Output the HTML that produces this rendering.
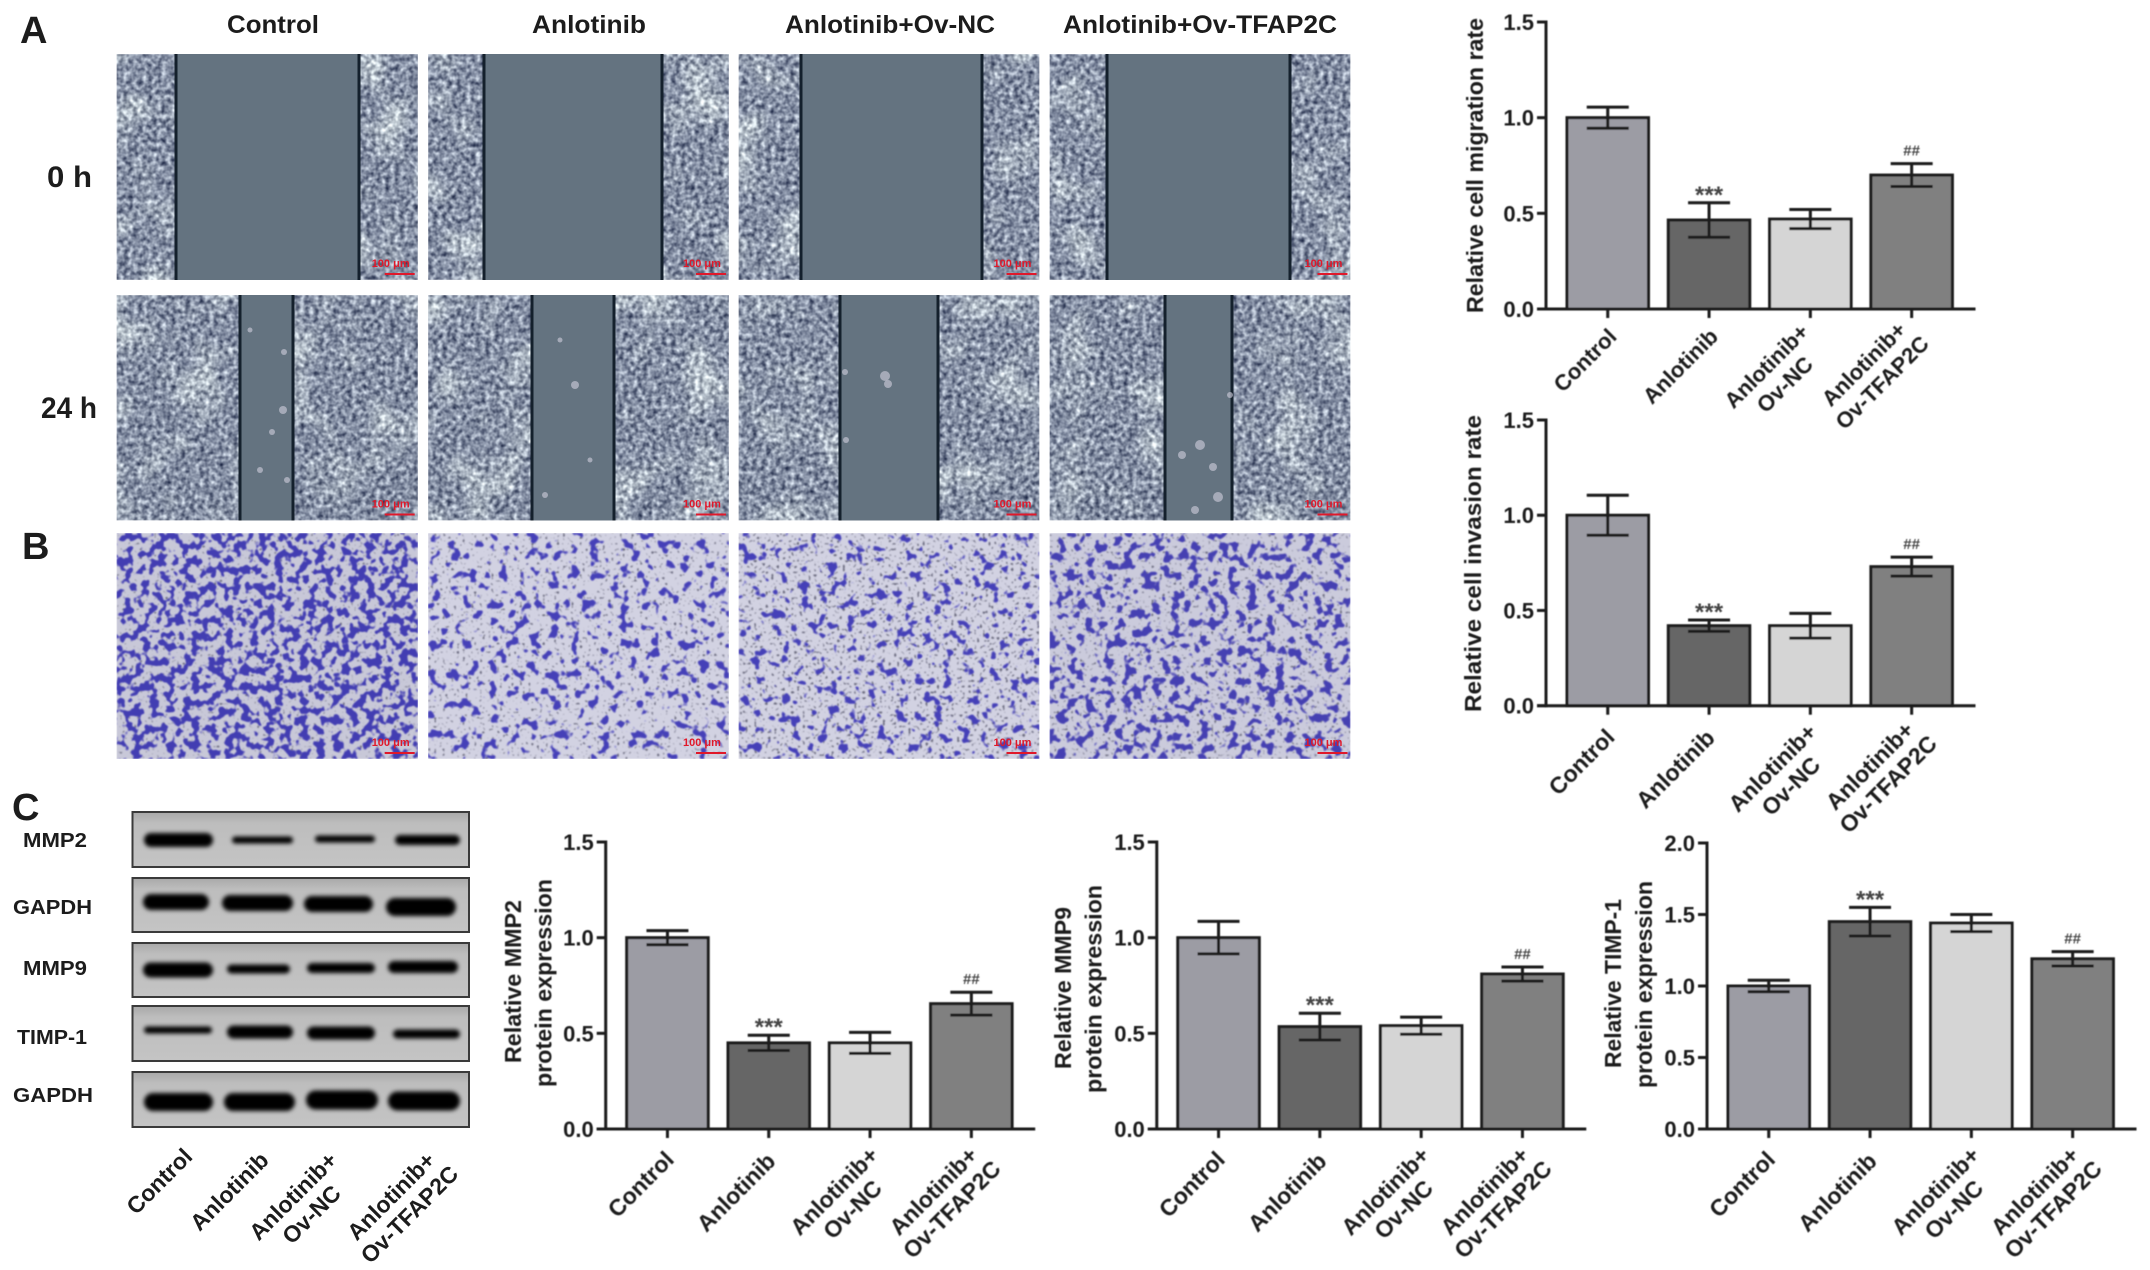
<!DOCTYPE html>
<html lang="en">
<head>
<meta charset="utf-8">
<title>Anlotinib and TFAP2C cell migration, invasion and protein expression</title>
<style>
html,body{margin:0;padding:0;background:#fff;width:2150px;height:1270px;overflow:hidden}
svg{display:block;font-family:"Liberation Sans",sans-serif}
text{font-weight:bold;fill:#1c1c1c}
</style>
</head>
<body>
<svg id="figure" xmlns="http://www.w3.org/2000/svg" width="2150" height="1270" viewBox="0 0 2150 1270">
<defs>
<filter id="monolayer" x="0" y="0" width="100%" height="100%" color-interpolation-filters="sRGB">
<feTurbulence type="fractalNoise" baseFrequency=".21" numOctaves="2" seed="4" result="fine"/>
<feTurbulence type="fractalNoise" baseFrequency=".022" numOctaves="2" seed="11" result="coarse"/>
<feColorMatrix in="fine" values="0 0 0 1.1 -.03  0 0 0 1.1 .01  0 0 0 1.0 .14  0 0 0 0 1" result="fineC"/>
<feColorMatrix in="coarse" values="0 0 0 .7 -.35  0 0 0 .7 -.35  0 0 0 .55 -.275  0 0 0 0 1" result="coarseC"/>
<feComposite in="fineC" in2="coarseC" operator="arithmetic" k1="0" k2="1" k3="1" k4="0"/>
<feGaussianBlur stdDeviation=".5"/>
</filter>
<filter id="stain-a" x="0" y="0" width="100%" height="100%" color-interpolation-filters="sRGB">
<feFlood flood-color="#c8c8d8" result="bg"/>
<feTurbulence type="fractalNoise" baseFrequency=".12" numOctaves="2" seed="7" result="n"/>
<feColorMatrix in="n" values="0 0 0 0 .26  0 0 0 0 .24  0 0 0 0 .70  0 0 0 14 -7" result="cells"/>
<feTurbulence type="fractalNoise" baseFrequency=".35" numOctaves="1" seed="3" result="p"/>
<feColorMatrix in="p" values="0 0 0 0 .4  0 0 0 0 .4  0 0 0 0 .48  0 0 0 8 -5.2" result="pores"/>
<feMerge><feMergeNode in="bg"/><feMergeNode in="pores"/><feMergeNode in="cells"/></feMerge>
<feGaussianBlur stdDeviation=".8"/>
</filter>
<filter id="stain-b" x="0" y="0" width="100%" height="100%" color-interpolation-filters="sRGB">
<feFlood flood-color="#d2d2e2" result="bg"/>
<feTurbulence type="fractalNoise" baseFrequency=".1" numOctaves="2" seed="21" result="n"/>
<feColorMatrix in="n" values="0 0 0 0 .27  0 0 0 0 .25  0 0 0 0 .72  0 0 0 14 -8.1" result="cells"/>
<feTurbulence type="fractalNoise" baseFrequency=".35" numOctaves="1" seed="9" result="p"/>
<feColorMatrix in="p" values="0 0 0 0 .4  0 0 0 0 .4  0 0 0 0 .48  0 0 0 8 -5" result="pores"/>
<feMerge><feMergeNode in="bg"/><feMergeNode in="pores"/><feMergeNode in="cells"/></feMerge>
<feGaussianBlur stdDeviation=".8"/>
</filter>
<filter id="stain-c" x="0" y="0" width="100%" height="100%" color-interpolation-filters="sRGB">
<feFlood flood-color="#d2d2e2" result="bg"/>
<feTurbulence type="fractalNoise" baseFrequency=".105" numOctaves="2" seed="33" result="n"/>
<feColorMatrix in="n" values="0 0 0 0 .27  0 0 0 0 .25  0 0 0 0 .72  0 0 0 14 -8.2" result="cells"/>
<feTurbulence type="fractalNoise" baseFrequency=".35" numOctaves="1" seed="15" result="p"/>
<feColorMatrix in="p" values="0 0 0 0 .4  0 0 0 0 .4  0 0 0 0 .48  0 0 0 8 -4.8" result="pores"/>
<feMerge><feMergeNode in="bg"/><feMergeNode in="pores"/><feMergeNode in="cells"/></feMerge>
<feGaussianBlur stdDeviation=".8"/>
</filter>
<filter id="stain-d" x="0" y="0" width="100%" height="100%" color-interpolation-filters="sRGB">
<feFlood flood-color="#cbcbdc" result="bg"/>
<feTurbulence type="fractalNoise" baseFrequency=".105" numOctaves="2" seed="41" result="n"/>
<feColorMatrix in="n" values="0 0 0 0 .27  0 0 0 0 .25  0 0 0 0 .70  0 0 0 14 -7.6" result="cells"/>
<feTurbulence type="fractalNoise" baseFrequency=".35" numOctaves="1" seed="27" result="p"/>
<feColorMatrix in="p" values="0 0 0 0 .4  0 0 0 0 .4  0 0 0 0 .48  0 0 0 8 -5" result="pores"/>
<feMerge><feMergeNode in="bg"/><feMergeNode in="pores"/><feMergeNode in="cells"/></feMerge>
<feGaussianBlur stdDeviation=".8"/>
</filter>
<filter id="band-blur" x="-20%" y="-60%" width="140%" height="220%"><feGaussianBlur stdDeviation="2.2"/></filter>
<filter id="soft" x="-2%" y="-2%" width="104%" height="104%"><feGaussianBlur stdDeviation=".45"/></filter>
<linearGradient id="blot-bg" x1="0" y1="0" x2="0" y2="1"><stop offset="0" stop-color="#a8a8a8"/><stop offset=".2" stop-color="#bdbdbd"/><stop offset="1" stop-color="#c4c4c4"/></linearGradient>
</defs>

<text x="20" y="43" font-size="38">A</text>
<text x="22" y="559" font-size="38">B</text>
<text x="12" y="820" font-size="38">C</text>

<text x="273" y="33" font-size="25" text-anchor="middle" textLength="92" lengthAdjust="spacingAndGlyphs">Control</text>
<text x="589" y="33" font-size="25" text-anchor="middle" textLength="114" lengthAdjust="spacingAndGlyphs">Anlotinib</text>
<text x="890" y="33" font-size="25" text-anchor="middle" textLength="210" lengthAdjust="spacingAndGlyphs">Anlotinib+Ov-NC</text>
<text x="1200" y="33" font-size="25" text-anchor="middle" textLength="274" lengthAdjust="spacingAndGlyphs">Anlotinib+Ov-TFAP2C</text>
<text x="47" y="187" font-size="30" textLength="45" lengthAdjust="spacingAndGlyphs">0 h</text>
<text x="41" y="418" font-size="30" textLength="56" lengthAdjust="spacingAndGlyphs">24 h</text>

<g id="micrographs"></g>
<g id="blot"></g>
<g id="charts" filter="url(#soft)"></g>
</svg>

<script>
// Chart data
const categories = [['Control'], ['Anlotinib'], ['Anlotinib+', 'Ov-NC'], ['Anlotinib+', 'Ov-TFAP2C']];
const ticks15 = ['0.0', '0.5', '1.0', '1.5'];
const ticks20 = ['0.0', '0.5', '1.0', '1.5', '2.0'];
const migrationMeans = [1.0, 0.465, 0.47, 0.70];
const migrationErrors = [0.055, 0.09, 0.05, 0.06];
const migrationMarks = ['', '***', '', '##'];
const invasionMeans = [1.0, 0.42, 0.42, 0.73];
const invasionErrors = [0.105, 0.03, 0.065, 0.05];
const invasionMarks = ['', '***', '', '##'];
const mmp2Means = [1.0, 0.45, 0.45, 0.655];
const mmp2Errors = [0.037, 0.04, 0.055, 0.06];
const mmp2Marks = ['', '***', '', '##'];
const mmp9Means = [1.0, 0.535, 0.54, 0.81];
const mmp9Errors = [0.085, 0.07, 0.045, 0.037];
const mmp9Marks = ['', '***', '', '##'];
const timpMeans = [1.0, 1.45, 1.44, 1.19];
const timpErrors = [0.04, 0.10, 0.06, 0.05];
const timpMarks = ['', '***', '', '##'];
const blotProteins = ['MMP2', 'GAPDH', 'MMP9', 'TIMP-1', 'GAPDH'];

const NS = 'http://www.w3.org/2000/svg';
function make(tag, attrs, parent) {
  const el = document.createElementNS(NS, tag);
  for (const k in attrs) el.setAttribute(k, attrs[k]);
  parent.appendChild(el);
  return el;
}
function slug(s) { return s.toLowerCase().replace(/[^a-z0-9]+/g, '-').replace(/^-|-$/g, ''); }

/* ---------- micrographs ---------- */
const micro = document.getElementById('micrographs');
const columnLeft = [116.7, 428, 738.5, 1049.5];
const columnWidth = 301;
const woundRows = [
  { top: 54, height: 226, name: '0h', edges: [[176, 359], [484, 662], [801, 982], [1107, 1290]] },
  { top: 295, height: 225.5, name: '24h', edges: [[240, 293], [532, 614], [840, 938], [1165, 1232]] }
];
const floaters = [
  [284, 352, 3], [283, 410, 4], [272, 432, 3], [260, 470, 3], [250, 330, 2.5], [287, 480, 3],
  [575, 385, 4], [590, 460, 2.5], [560, 340, 2.5], [545, 495, 3], [885, 376, 5], [888, 384, 4], [845, 372, 3],
  [846, 440, 3], [1200, 445, 5], [1182, 455, 4], [1213, 467, 4], [1218, 497, 5], [1195, 510, 4], [1230, 395, 3]
];
function scaleBar(px, py) {
  const t = make('text', { x: px - 46, y: py - 13, 'font-size': 11, style: 'fill:#e0182a' }, micro);
  t.textContent = '100 μm';
  
  
  const l = make('line', { x1: px - 33, x2: px - 3, y1: py - 6, y2: py - 6, stroke: '#e0182a', 'stroke-width': 2 }, micro);
  
  
}
woundRows.forEach(function (row) {
  columnLeft.forEach(function (left, c) {
    const cells = make('rect', { x: left, y: row.top, width: columnWidth, height: row.height, fill: '#808aa2', filter: 'url(#monolayer)' }, micro);
    
    
    const e = row.edges[c];
    const gap = make('rect', { x: e[0], y: row.top, width: e[1] - e[0], height: row.height, fill: '#647380' }, micro);
    
    
    e.forEach(function (x) {
      const line = make('line', { x1: x, x2: x, y1: row.top, y2: row.top + row.height, stroke: '#14202c', 'stroke-width': 3 }, micro);
      
      
    });
    scaleBar(left + columnWidth, row.top + row.height);
  });
});
floaters.forEach(function (f) {
  const dot = make('circle', { cx: f[0], cy: f[1], r: f[2], fill: '#c8c8d6', opacity: .65 }, micro);
  
  
});
['a', 'b', 'c', 'd'].forEach(function (k, c) {
  const p = make('rect', { x: columnLeft[c], y: 533, width: columnWidth, height: 226, fill: '#ccc', filter: 'url(#stain-' + k + ')' }, micro);
  
  
  scaleBar(columnLeft[c] + columnWidth, 759);
});

/* ---------- western blot ---------- */
const blot = document.getElementById('blot');
const blotBoxes = [[812, 867], [878, 932], [943, 997], [1006, 1061], [1072, 1127]];
const blotLabelBoxes = [[55, 840, 64], [52.5, 907, 79], [55, 968, 64], [52, 1037, 70], [53, 1095, 80]];
const blotBands = [
  [[144, 213, 840, 14], [232, 293, 840, 7], [315, 375, 839, 7], [395, 460, 840, 10]],
  [[143, 209, 902, 16], [222, 293, 903, 16], [304, 373, 904, 16], [386, 456, 907, 18]],
  [[143, 213, 970, 15], [227, 290, 969, 9], [307, 375, 968, 10], [388, 458, 967, 12]],
  [[144, 212, 1030, 7], [227, 293, 1032, 13], [307, 375, 1033, 13], [393, 460, 1034, 9]],
  [[144, 213, 1102, 18], [224, 295, 1102, 18], [306, 378, 1100, 19], [388, 460, 1101, 19]]
];
blotBoxes.forEach(function (b, r) {
  const box = make('rect', { x: 132.5, y: b[0], width: 336.5, height: b[1] - b[0], fill: 'url(#blot-bg)', stroke: '#3a3a3a', 'stroke-width': 2 }, blot);
  
  
  blotBands[r].forEach(function (d) {
    const band = make('rect', { x: d[0], y: d[2] - d[3] / 2, width: d[1] - d[0], height: d[3], rx: d[3] / 2, fill: '#060606', filter: 'url(#band-blur)' }, blot);
    
    
  });
  const lb = blotLabelBoxes[r];
  const label = make('text', { x: lb[0], y: lb[1] + 7, 'font-size': 20, 'text-anchor': 'middle', textLength: lb[2], lengthAdjust: 'spacingAndGlyphs' }, blot);
  label.textContent = blotProteins[r];
  
  
});
function rotatedLabel(parent, cat, cx, cy, size, spacing) {
  const g = make('g', { transform: 'translate(' + cx + ' ' + cy + ') rotate(-45)' }, parent);
  cat.forEach(function (line, j) {
    const t = make('text', { x: 0, y: (j - (cat.length - 1) / 2) * spacing + size * .36, 'font-size': size, 'text-anchor': 'middle' }, g);
    t.textContent = line;
    
    
  });
}
const blotLabelCentres = [[159, 1181], [229, 1191], [302, 1205], [400, 1205]];
categories.forEach(function (cat, i) {
  rotatedLabel(blot, cat, blotLabelCentres[i][0], blotLabelCentres[i][1], 23, 26);
});

/* ---------- bar charts ---------- */
const chartRoot = document.getElementById('charts');
const barFills = ['#9c9ca4', '#666666', '#d5d5d5', '#808080'];
const BAR_OFFSET = 21, BAR_STEP = 101.3, BAR_WIDTH = 81.5, AXIS_LEN = 429.5;

function drawChart(cfg) {
  const g = make('g', {}, chartRoot);
  
  
  const maxV = parseFloat(cfg.ticks[cfg.ticks.length - 1]);
  const yScale = function (v) { return cfg.y0 - v / maxV * (cfg.y0 - cfg.yTop); };
  const xLeft = function (i) { return cfg.axisX + BAR_OFFSET + i * BAR_STEP; };
  const xMid = function (i) { return xLeft(i) + BAR_WIDTH / 2; };

  cfg.means.forEach(function (m, i) {
    const bar = make('rect', { x: xLeft(i), y: yScale(m), width: BAR_WIDTH, height: cfg.y0 - yScale(m), fill: barFills[i], stroke: '#1c1c1c', 'stroke-width': 3 }, g);
    
    
    const hi = yScale(m + cfg.errors[i]), lo = yScale(m - cfg.errors[i]), cx = xMid(i);
    const err = make('path', { d: 'M' + (cx - 21) + ' ' + hi + 'H' + (cx + 21) + 'M' + cx + ' ' + hi + 'V' + lo + 'M' + (cx - 21) + ' ' + lo + 'H' + (cx + 21), fill: 'none', stroke: '#1c1c1c', 'stroke-width': 3 }, g);
    
    
    if (cfg.marks[i]) {
      const isStar = cfg.marks[i] === '***';
      const mark = make('text', { x: cx, y: hi - (isStar ? 0 : 8), 'font-size': isStar ? 24 : 15, 'text-anchor': 'middle', style: 'fill:#444' }, g);
      mark.textContent = cfg.marks[i];
      
      
    }
    const tick = make('line', { x1: cx, x2: cx, y1: cfg.y0, y2: cfg.y0 + 9, stroke: '#1c1c1c', 'stroke-width': 3 }, g);
    
    
    rotatedLabel(g, categories[i], cx + cfg.labelOffsets[i][0], cfg.y0 + cfg.labelOffsets[i][1], cfg.labelSize, 26);
  });

  const yAxis = make('line', { x1: cfg.axisX, x2: cfg.axisX, y1: cfg.yTop - 1.5, y2: cfg.y0 + 1.5, stroke: '#1c1c1c', 'stroke-width': 3 }, g);
  
  
  const xAxis = make('line', { x1: cfg.axisX - 9, x2: cfg.axisX + AXIS_LEN, y1: cfg.y0, y2: cfg.y0, stroke: '#1c1c1c', 'stroke-width': 3 }, g);
  
  

  cfg.ticks.forEach(function (label) {
    const y = yScale(parseFloat(label));
    const tick = make('line', { x1: cfg.axisX - 9, x2: cfg.axisX, y1: y, y2: y, stroke: '#1c1c1c', 'stroke-width': 3 }, g);
    
    
    const t = make('text', { x: cfg.axisX - 12, y: y + 8, 'font-size': 22, 'text-anchor': 'end' }, g);
    t.textContent = label;
    
    
  });

  cfg.titles.forEach(function (tl) {
    const t = make('text', { transform: 'translate(' + (tl.x + 8) + ' ' + tl.y + ') rotate(-90)', 'font-size': 23, 'text-anchor': 'middle', textLength: tl.len, lengthAdjust: 'spacingAndGlyphs' }, g);
    t.textContent = tl.text;
    
    
  });
}

const upperLabelOffsets = [[-23, 51], [-29, 57], [-35, 66], [-39, 64]];
const middleLabelOffsets = [[-26.5, 56], [-34, 63], [-29, 71], [-33, 69]];
const lowerLabelOffsets = [[-27, 55], [-33, 63], [-27, 71], [-29, 71]];

drawChart({ name: 'chart-migration', means: migrationMeans, errors: migrationErrors, marks: migrationMarks, ticks: ticks15,
  axisX: 1546, y0: 309, yTop: 22, labelSize: 22, labelOffsets: upperLabelOffsets,
  titles: [{ text: 'Relative cell migration rate', x: 1475, y: 165.5, len: 295 }] });
drawChart({ name: 'chart-invasion', means: invasionMeans, errors: invasionErrors, marks: invasionMarks, ticks: ticks15,
  axisX: 1546, y0: 705.7, yTop: 420, labelSize: 23, labelOffsets: middleLabelOffsets,
  titles: [{ text: 'Relative cell invasion rate', x: 1473, y: 563.5, len: 297 }] });
drawChart({ name: 'chart-mmp2', means: mmp2Means, errors: mmp2Errors, marks: mmp2Marks, ticks: ticks15,
  axisX: 605.7, y0: 1129, yTop: 842, labelSize: 23, labelOffsets: lowerLabelOffsets,
  titles: [{ text: 'Relative MMP2', x: 513, y: 981.5, len: 163 }, { text: 'protein expression', x: 543.6, y: 983, len: 208 }] });
drawChart({ name: 'chart-mmp9', means: mmp9Means, errors: mmp9Errors, marks: mmp9Marks, ticks: ticks15,
  axisX: 1156.8, y0: 1129, yTop: 842, labelSize: 23, labelOffsets: lowerLabelOffsets,
  titles: [{ text: 'Relative MMP9', x: 1063, y: 988, len: 162 }, { text: 'protein expression', x: 1093.6, y: 989, len: 208 }] });
drawChart({ name: 'chart-timp1', means: timpMeans, errors: timpErrors, marks: timpMarks, ticks: ticks20,
  axisX: 1707, y0: 1129, yTop: 843, labelSize: 23, labelOffsets: lowerLabelOffsets,
  titles: [{ text: 'Relative TIMP-1', x: 1613, y: 983.5, len: 169 }, { text: 'protein expression', x: 1644, y: 984.5, len: 207 }] });
</script>
</body>
</html>
